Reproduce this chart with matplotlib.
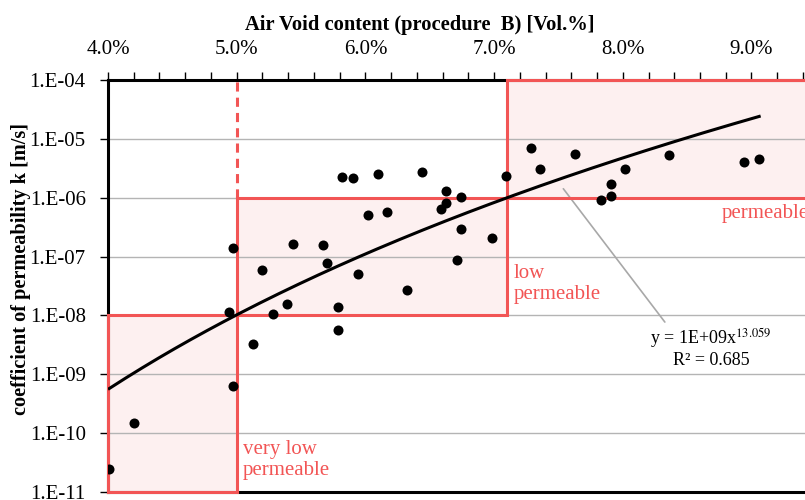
import numpy as np
import matplotlib.pyplot as plt
from matplotlib.ticker import FixedLocator, MultipleLocator, FuncFormatter
from matplotlib.patches import Rectangle

plt.rcParams['font.family'] = ['Liberation Serif', 'DejaVu Serif']
plt.rcParams['mathtext.fontset'] = 'stix'

# air void content [%] and permeability coefficient k [m/s]
void_pct = [4.01, 4.20, 4.97, 4.94, 4.97, 5.13, 5.20, 5.28, 5.39, 5.44,
            5.67, 5.70, 5.79, 5.79, 5.82, 5.90, 5.94, 6.02, 6.10, 6.17,
            6.32, 6.44, 6.63, 6.63, 6.59, 6.74, 6.74, 6.98, 6.71, 7.09,
            7.29, 7.36, 7.63, 8.02, 7.91, 7.91, 7.83, 8.36, 8.94, 9.06]
log_k = [-10.61, -9.82, -9.20, -7.95, -6.85, -8.49, -7.23, -7.98, -7.81, -6.78,
         -6.81, -7.11, -7.85, -8.24, -5.64, -5.66, -7.30, -6.30, -5.60, -6.25,
         -7.57, -5.56, -5.89, -6.09, -6.19, -5.99, -6.54, -6.68, -7.05, -5.63,
         -5.16, -5.51, -5.26, -5.51, -5.77, -5.97, -6.04, -5.27, -5.39, -5.35]
k = [10 ** v for v in log_k]

# power-law fit y = a * x^b (x as fraction)
fit_a = 1e9
fit_b = 13.059
fit_r2 = 0.685

# permeability classes: (x0, x1, k_low, k_high)
x_limits = [4.0, 9.416]
classes = [
    (4.0, 5.0, 1e-11, 1e-8),
    (5.0, 7.1, 1e-8, 1e-6),
    (7.1, 9.6, 1e-6, 1e-4),
]

red = '#f25555'
fill = '#fdf0f0'

fig = plt.figure(figsize=(8.05, 5.0), dpi=100)
ax = fig.add_axes([108 / 805, 8 / 500, 697 / 805, 412 / 500])
ax.set_yscale('log')
ax.set_xlim(*x_limits)
ax.set_ylim(1e-11, 1e-4)

# classes
for x0, x1, y0, y1 in classes:
    ax.add_patch(Rectangle((x0, y0), x1 - x0, y1 - y0, facecolor='none',
                           edgecolor=red, lw=2.2, zorder=4, clip_on=False))
    ax.add_patch(Rectangle((x0, y0), x1 - x0, y1 - y0, facecolor=fill,
                           edgecolor='none', zorder=0.5))
ax.plot([5.0, 5.0], [1e-6, 1e-4], color=red, lw=2.2, ls=(0, (3, 2)), zorder=4)

# grid
ax.yaxis.grid(True, color='#b4b4b4', lw=1.0, zorder=0.6)
ax.set_axisbelow(True)

# trend line
xf = np.linspace(min(void_pct), max(void_pct), 200)
ax.plot(xf, fit_a * (xf / 100) ** fit_b, color='black', lw=2.2, zorder=5)

# measurements
ax.scatter(void_pct, k, s=52, color='black', zorder=6, linewidths=0)

# class labels
ax.text(5.05, 10 ** -10.46, 'very low\npermeable', color=red, fontsize=15,
        va='center', ha='left', linespacing=1.15)
ax.text(7.155, 10 ** -7.47, 'low\npermeable', color=red, fontsize=15,
        va='center', ha='left', linespacing=1.15)
ax.text(8.77, 10 ** -6.26, 'permeable', color=red, fontsize=15,
        va='center', ha='left')

# fit equation
ax.annotate('', xy=(7.525, 10 ** -5.81), xytext=(8.34, 10 ** -8.15),
            arrowprops=dict(arrowstyle='-', color='#a8a8a8', lw=1.2))
ax.text(8.685, 10 ** -8.38, 'y = 1E+09x$^{%.3f}$' % fit_b, fontsize=13,
        ha='center', va='center')
ax.text(8.685, 10 ** -8.76, 'R² = %.3f' % fit_r2, fontsize=13,
        ha='center', va='center')

# axes styling
for side in ['top', 'left', 'bottom']:
    ax.spines[side].set_linewidth(2.2)
    ax.spines[side].set_zorder(3)
ax.spines['right'].set_visible(False)

ax.xaxis.tick_top()
ax.xaxis.set_major_locator(MultipleLocator(1.0))
ax.xaxis.set_minor_locator(MultipleLocator(0.2))
ax.xaxis.set_major_formatter(FuncFormatter(lambda v, p: '%.1f%%' % v))
ax.tick_params(axis='x', which='both', direction='out', length=6, width=1,
               labelsize=15, pad=9)

ax.yaxis.set_major_locator(FixedLocator([10.0 ** e for e in range(-11, -3)]))
ax.yaxis.set_minor_locator(FixedLocator([]))
ax.yaxis.set_major_formatter(FuncFormatter(lambda v, p: '1.E-%02d' % round(-np.log10(v))))
ax.tick_params(axis='y', which='major', direction='out', length=6, width=1,
               labelsize=15, pad=10)

ax.xaxis.set_label_position('top')
ax.set_xlabel('Air Void content (procedure  B) [Vol.%]', fontsize=14.8, fontweight='bold')
ax.xaxis.set_label_coords((420 - 108) / 697, 1 + 55 / 412)
ax.xaxis.label.set_va('center')
ax.set_ylabel('coefficient of permeability k [m/s]', fontsize=14.6, fontweight='bold')
ax.yaxis.set_label_coords((21 - 108) / 697, (492 - 269) / 412)
ax.yaxis.label.set_va('center')

fig.savefig('out.png', dpi=100)
